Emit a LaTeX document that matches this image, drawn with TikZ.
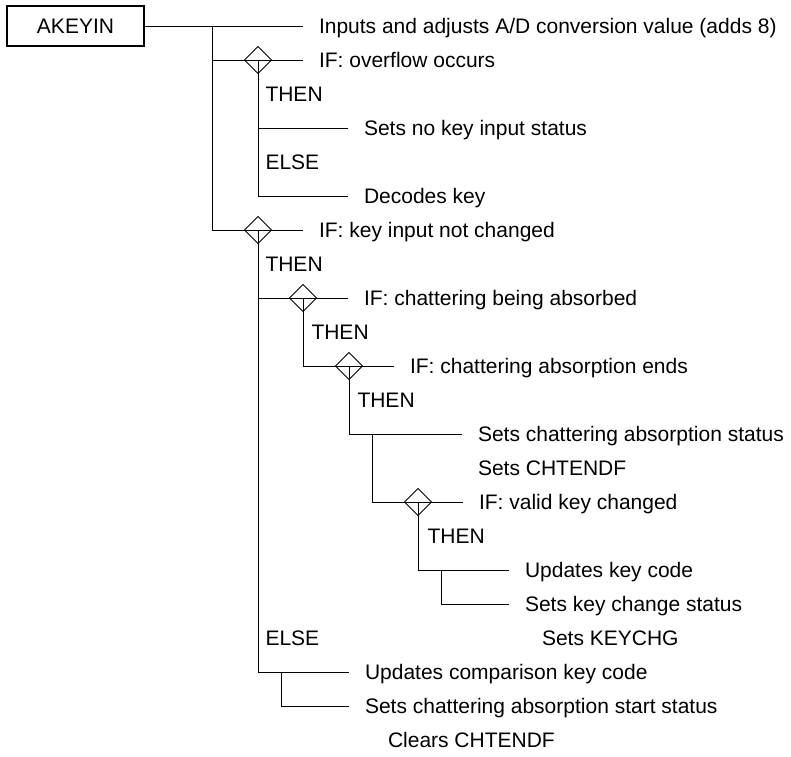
\documentclass[tikz,border=0pt]{standalone}
\usepackage{fontspec}
\setmainfont{Liberation Sans}
\usetikzlibrary{shapes.geometric}

\begin{document}
\begin{tikzpicture}[x=0.5pt, y=-0.5pt, line width=0.5pt,
  font=\fontsize{10.5}{12}\selectfont,
  akbox/.style={draw, line width=1pt, minimum width=68.5pt, minimum height=20pt, inner sep=0pt},
  item/.style={anchor=west, inner xsep=8pt, inner ysep=0pt, outer sep=0pt, text height=7.5pt, text depth=0pt},
  kw/.style={anchor=west, inner sep=0pt, text height=7.5pt, text depth=0pt},
  cond/.style={draw, diamond, minimum width=13.5pt, minimum height=13.5pt, inner sep=0pt, outer sep=0pt}]
\useasboundingbox (0,0) rectangle (791,756);

\node[akbox] (akeyin) at (75.5,26) {AKEYIN};

\node[item] (n1) at (303,26) {Inputs and adjusts A/D conversion value (adds 8)};
\node[item] (if1) at (303,60) {IF: overflow occurs};
\node[kw] (then1) at (265,94) {THEN};
\node[item] (n2) at (348,128) {Sets no key input status};
\node[kw] (else1) at (265,162) {ELSE};
\node[item] (n3) at (348,196) {Decodes key};
\node[item] (if2) at (303,230) {IF: key input not changed};
\node[kw] (then2) at (265,264) {THEN};
\node[item] (if3) at (348,298) {IF: chattering being absorbed};
\node[kw] (then3) at (311,332) {THEN};
\node[item] (if4) at (394,366) {IF: chattering absorption ends};
\node[kw] (then4) at (357,400) {THEN};
\node[item] (n4) at (462,434) {Sets chattering absorption status};
\node[item] (n5) at (462,468) {Sets CHTENDF};
\node[item] (if5) at (463,502) {IF: valid key changed};
\node[kw] (then5) at (427,536) {THEN};
\node[item] (n6) at (509,570) {Updates key code};
\node[item] (n7) at (509,604) {Sets key change status};
\node[item] (n8) at (526,638) {Sets KEYCHG};
\node[kw] (else2) at (265,638) {ELSE};
\node[item] (n9) at (349,672) {Updates comparison key code};
\node[item] (n10) at (349,706) {Sets chattering absorption start status};
\node[item] (n11) at (372,740) {Clears CHTENDF};

\node[cond] (d1) at (258,60) {};
\node[cond] (d2) at (258,230) {};
\node[cond] (d3) at (303,298) {};
\node[cond] (d4) at (349,366) {};
\node[cond] (d5) at (418,502) {};

\coordinate (j0) at (212,26);
\coordinate (s1) at (372,434);
\coordinate (s2) at (441,570);
\coordinate (s3) at (281,672);

\draw (akeyin.east) -- (n1.west);
\draw (j0) |- (if2.west);
\draw (j0 |- if1) -- (if1.west);
\draw (d1.center) |- (n3.west);
\draw (d1 |- n2) -- (n2.west);
\draw (d2.center) |- (n9.west);
\draw (d2 |- if3) -- (if3.west);
\draw (d3.center) |- (if4.west);
\draw (d4.center) |- (n4.west);
\draw (s1) |- (if5.west);
\draw (d5.center) |- (n6.west);
\draw (s2) |- (n7.west);
\draw (s3) |- (n10.west);
\end{tikzpicture}
\end{document}
